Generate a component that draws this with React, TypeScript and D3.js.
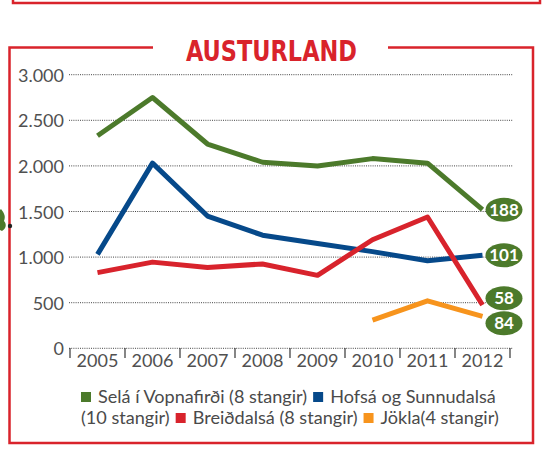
import React, { useEffect, useRef } from "react";
import * as d3 from "d3";

const years = ["2005", "2006", "2007", "2008", "2009", "2010", "2011", "2012"];
const sela = [2330, 2750, 2240, 2040, 2000, 2080, 2030, 1520];
const hofsa = [1030, 2030, 1450, 1240, 1150, 1060, 960, 1020];
const breiddalsa = [830, 945, 885, 925, 800, 1190, 1440, 475];
const jokla: (number | null)[] = [null, null, null, null, null, 310, 520, 350];
const endLabels = ["188", "101", "58", "84"];
const yTicks = [0, 500, 1000, 1500, 2000, 2500, 3000];
const seriesNames = [
  "Selá í Vopnafirði (8 stangir)",
  "Hofsá og Sunnudalsá (10 stangir)",
  "Breiðdalsá (8 stangir)",
  "Jökla(4 stangir)",
];
const colors = ["#4c7a2b", "#06498a", "#d8232c", "#f7941d"];
const RED = "#d9232b";
const FONT = "Lato, 'Open Sans', sans-serif";

export default function App() {
  const ref = useRef<SVGSVGElement>(null);

  useEffect(() => {
    const svg = d3.select(ref.current);
    svg.selectAll("*").remove();

    const x = d3.scaleBand<string>().domain(years).range([70, 510]).padding(0);
    const y = d3.scaleLinear().domain([0, 3000]).range([348.3, 74.7]);
    const cx = (yr: string) => (x(yr) as number) + x.bandwidth() / 2;

    // top box remnant
    svg.append("path").attr("d", "M13,-5V3H540V-5").attr("fill", "none").attr("stroke", RED).attr("stroke-width", 2.5);
    // frame
    svg.append("path")
      .attr("d", "M153,47.5H9.5V443H533V47.5H388")
      .attr("fill", "none").attr("stroke", RED).attr("stroke-width", 2.5);
    svg.append("text").text("AUSTURLAND")
      .attr("x", 271.5).attr("y", 60.5).attr("text-anchor", "middle")
      .attr("font-family", "'Liberation Sans Narrow', 'DejaVu Sans Condensed', sans-serif")
      .attr("font-weight", "bold").attr("font-size", 28).attr("fill", RED)
      .attr("textLength", 171).attr("lengthAdjust", "spacingAndGlyphs");

    // left decoration
    svg.append("path").attr("d", "M1,209 C4,213 6,216 4,221 C7,224 6,229 2,231 L0,230 L0,210Z").attr("fill", "#4c7a2b");
    svg.append("circle").attr("cx", 10).attr("cy", 226).attr("r", 2.2).attr("fill", "#222");

    // gridlines
    const g = svg.append("g");
    g.selectAll("line.grid").data(yTicks).join("line")
      .attr("x1", 69).attr("x2", 513)
      .attr("y1", (d) => y(d)).attr("y2", (d) => y(d))
      .attr("stroke", "#444").attr("stroke-width", 1).attr("stroke-dasharray", "1,1.2");
    g.selectAll("text.yl").data(yTicks).join("text")
      .text((d) => (d === 0 ? "0" : d3.format(",")(d).replace(",", ".")))
      .attr("x", 64).attr("y", (d) => y(d) + 7)
      .attr("text-anchor", "end").attr("font-family", FONT).attr("font-size", 18).attr("fill", "#505050");

    // x ticks
    const edges = years.map((yr) => x(yr) as number).concat([510]);
    g.selectAll("line.xt").data(edges).join("line")
      .attr("x1", (d) => d).attr("x2", (d) => d)
      .attr("y1", 348).attr("y2", 358)
      .attr("stroke", "#444").attr("stroke-width", 1.3);
    g.selectAll("text.xl").data(years).join("text")
      .text((d) => d).attr("x", (d) => cx(d)).attr("y", 367)
      .attr("text-anchor", "middle").attr("font-family", FONT).attr("font-size", 18).attr("fill", "#505050");

    // lines
    const all = [sela, hofsa, breiddalsa, jokla];
    const line = d3.line<number | null>()
      .defined((d) => d != null)
      .x((_, i) => cx(years[i]))
      .y((d) => y(d as number));
    all.forEach((s, i) => {
      svg.append("path").attr("d", line(s) as string)
        .attr("fill", "none").attr("stroke", colors[i]).attr("stroke-width", 5)
        .attr("stroke-linejoin", "round").attr("stroke-linecap", "butt");
    });

    // end labels with simple collision avoidance
    const pos = all.map((s) => y(s[s.length - 1] as number));
    const order = pos.map((p, i) => i).sort((a, b) => pos[a] - pos[b]);
    const minGap = 25;
    for (let k = 1; k < order.length; k++) {
      const a = order[k - 1], b = order[k];
      if (pos[b] - pos[a] < minGap) {
        const mid = (pos[a] + pos[b]) / 2;
        pos[a] = mid - minGap / 2;
        pos[b] = mid + minGap / 2;
      }
    }
    endLabels.forEach((lab, i) => {
      svg.append("ellipse").attr("cx", 504).attr("cy", pos[i]).attr("rx", 18.5).attr("ry", 12).attr("fill", colors[0]);
      svg.append("text").text(lab).attr("x", 504).attr("y", pos[i] + 6)
        .attr("text-anchor", "middle").attr("font-family", FONT).attr("font-weight", "bold")
        .attr("font-size", 17).attr("fill", "#fff");
    });

    // legend
    const rows: { kind: "sq" | "t"; v: string | number }[][] = [
      [{ kind: "sq", v: 0 }, { kind: "t", v: seriesNames[0] }, { kind: "sq", v: 1 }, { kind: "t", v: "Hofsá og Sunnudalsá" }],
      [{ kind: "t", v: "(10 stangir)" }, { kind: "sq", v: 2 }, { kind: "t", v: seriesNames[2] }, { kind: "sq", v: 3 }, { kind: "t", v: seriesNames[3] }],
    ];
    const targets = [496, 499];
    const baselines = [403, 424];
    const layoutRow = (row: typeof rows[0], ri: number, fs: number, draw: boolean) => {
      let cur = 81;
      row.forEach((item, k) => {
        if (item.kind === "sq") {
          if (k > 0) cur += 6;
          if (draw)
            svg.append("rect").attr("x", cur).attr("y", baselines[ri] - 11).attr("width", 10).attr("height", 10)
              .attr("fill", colors[item.v as number]);
          cur += 10 + 7;
        } else {
          const t = svg.append("text").text(item.v as string).attr("x", cur).attr("y", baselines[ri])
            .attr("font-family", FONT).attr("font-size", fs).attr("fill", "#4a4a4a");
          const w = (t.node() as SVGTextElement).getComputedTextLength();
          if (!draw) t.remove();
          cur += w;
        }
      });
      return cur;
    };
    rows.forEach((row, ri) => {
      const base = 17;
      const end = layoutRow(row, ri, base, false);
      const fixed = row.filter((r) => r.kind === "sq").length * 17 + row.filter((r, k) => r.kind === "sq" && k > 0).length * 6;
      const textW = end - 81 - fixed;
      const fs = base * (targets[ri] - 81 - fixed) / textW;
      layoutRow(row, ri, fs, true);
    });
  }, []);

  return (
    <svg ref={ref} width={552} height={449} style={{ position: "absolute", left: 0, top: 0, background: "#fff" }} />
  );
}
